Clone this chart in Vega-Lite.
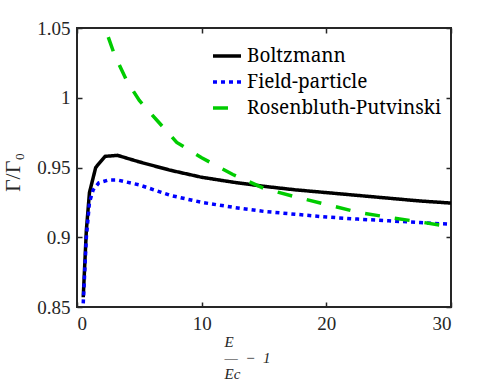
{
 "$schema": "https://vega.github.io/schema/vega-lite/v6.json",
 "width": 374,
 "height": 279,
 "autosize": {"type": "none"},
 "padding": {"left": 77, "top": 28, "right": 47, "bottom": 75},
 "background": "white",
 "config": {
  "view": {"stroke": "#262626", "strokeWidth": 2},
  "font": "Times New Roman",
  "axis": {"grid": false, "domain": false, "tickColor": "#262626", "tickWidth": 1.5, "tickSize": -5,
   "labelFontSize": 19, "labelColor": "#262626",
   "titleColor": "#262626", "titleFontWeight": "normal"}
 },
 "data": {"values": [
  {"series": "Boltzmann", "x": 0.5, "y": 0.857},
  {"series": "Boltzmann", "x": 0.75, "y": 0.905},
  {"series": "Boltzmann", "x": 1.0, "y": 0.932},
  {"series": "Boltzmann", "x": 1.5, "y": 0.950},
  {"series": "Boltzmann", "x": 2.25, "y": 0.958},
  {"series": "Boltzmann", "x": 3.25, "y": 0.9587},
  {"series": "Boltzmann", "x": 5, "y": 0.954},
  {"series": "Boltzmann", "x": 7.5, "y": 0.948},
  {"series": "Boltzmann", "x": 10, "y": 0.943},
  {"series": "Boltzmann", "x": 12.5, "y": 0.9395},
  {"series": "Boltzmann", "x": 15, "y": 0.9365},
  {"series": "Boltzmann", "x": 17.5, "y": 0.934},
  {"series": "Boltzmann", "x": 20, "y": 0.932},
  {"series": "Boltzmann", "x": 22.5, "y": 0.930},
  {"series": "Boltzmann", "x": 25, "y": 0.928},
  {"series": "Boltzmann", "x": 27.5, "y": 0.926},
  {"series": "Boltzmann", "x": 30, "y": 0.9245},
  {"series": "Field-particle", "x": 0.5, "y": 0.8526},
  {"series": "Field-particle", "x": 0.75, "y": 0.900},
  {"series": "Field-particle", "x": 1.0, "y": 0.925},
  {"series": "Field-particle", "x": 1.3, "y": 0.934},
  {"series": "Field-particle", "x": 1.75, "y": 0.939},
  {"series": "Field-particle", "x": 2.5, "y": 0.941},
  {"series": "Field-particle", "x": 3.25, "y": 0.941},
  {"series": "Field-particle", "x": 5, "y": 0.9375},
  {"series": "Field-particle", "x": 7.5, "y": 0.930},
  {"series": "Field-particle", "x": 10, "y": 0.925},
  {"series": "Field-particle", "x": 12.5, "y": 0.9215},
  {"series": "Field-particle", "x": 15, "y": 0.9185},
  {"series": "Field-particle", "x": 17.5, "y": 0.9165},
  {"series": "Field-particle", "x": 20, "y": 0.9145},
  {"series": "Field-particle", "x": 22.5, "y": 0.913},
  {"series": "Field-particle", "x": 25, "y": 0.9118},
  {"series": "Field-particle", "x": 27.5, "y": 0.9105},
  {"series": "Field-particle", "x": 30, "y": 0.9093},
  {"series": "Rosenbluth-Putvinski", "x": 1.8, "y": 1.064},
  {"series": "Rosenbluth-Putvinski", "x": 2.25, "y": 1.050},
  {"series": "Rosenbluth-Putvinski", "x": 3, "y": 1.031},
  {"series": "Rosenbluth-Putvinski", "x": 4, "y": 1.012},
  {"series": "Rosenbluth-Putvinski", "x": 5, "y": 0.998},
  {"series": "Rosenbluth-Putvinski", "x": 6.5, "y": 0.983},
  {"series": "Rosenbluth-Putvinski", "x": 8, "y": 0.968},
  {"series": "Rosenbluth-Putvinski", "x": 10, "y": 0.957},
  {"series": "Rosenbluth-Putvinski", "x": 12.5, "y": 0.945},
  {"series": "Rosenbluth-Putvinski", "x": 15, "y": 0.935},
  {"series": "Rosenbluth-Putvinski", "x": 17.5, "y": 0.929},
  {"series": "Rosenbluth-Putvinski", "x": 20, "y": 0.9235},
  {"series": "Rosenbluth-Putvinski", "x": 22.5, "y": 0.918},
  {"series": "Rosenbluth-Putvinski", "x": 25, "y": 0.9143},
  {"series": "Rosenbluth-Putvinski", "x": 27.5, "y": 0.911},
  {"series": "Rosenbluth-Putvinski", "x": 30, "y": 0.9075}
 ]},
 "layer": [
  {
   "mark": {"type": "line", "strokeWidth": 3.5, "clip": true},
   "encoding": {
    "x": {"field": "x", "type": "quantitative", "scale": {"domain": [0, 30], "nice": false},
     "axis": {"orient": "bottom", "values": [0, 10, 20, 30], "labelPadding": 12, "labelFont": "Liberation Serif",
      "title": ["\u2009E", "\u2014\u2002\u2212\u20021", "Ec"], "titleFont": "Liberation Serif", "titleFontSize": 15, "titleFontStyle": "italic",
      "titleLineHeight": 16, "titleAlign": "left", "titleX": 147, "titleY": 27, "titleBaseline": "top"}},
    "y": {"field": "y", "type": "quantitative", "scale": {"domain": [0.85, 1.05], "nice": false},
     "axis": {"orient": "left", "values": [0.85, 0.9, 0.95, 1, 1.05], "format": "~g", "labelPadding": 12, "labelFont": "Times New Roman",
      "title": "\u0393/\u0393\u2080", "titleFont": "Liberation Serif", "titleFontSize": 22, "titleX": -65, "titleY": 144, "titleAngle": -90,
      "titleAlign": "center", "titleBaseline": "middle"}},
    "color": {"field": "series", "type": "nominal",
     "scale": {"domain": ["Boltzmann", "Field-particle", "Rosenbluth-Putvinski"], "range": ["#000000", "#0000ff", "#00cc00"]},
     "legend": {"title": null, "orient": "none", "legendX": 134, "legendY": 12, "padding": 0, "symbolSize": 784,
      "symbolStrokeWidth": 3.5, "symbolType": "stroke", "labelFont": "Noto Serif", "labelFontSize": 19,
      "labelColor": "#000000", "labelOffset": 4, "rowPadding": 0, "labelLimit": 400}},
    "strokeDash": {"field": "series", "type": "nominal",
     "scale": {"domain": ["Boltzmann", "Field-particle", "Rosenbluth-Putvinski"], "range": [[1, 0], [4, 4], [15, 15]]},
     "legend": {"title": null, "orient": "none", "legendX": 134, "legendY": 12, "padding": 0, "symbolSize": 784,
      "symbolStrokeWidth": 3.5, "symbolType": "stroke", "labelFont": "Noto Serif", "labelFontSize": 19,
      "labelColor": "#000000", "labelOffset": 4, "rowPadding": 0, "labelLimit": 400}}
   }
  },
  {
   "mark": {"type": "line", "opacity": 0},
   "encoding": {
    "x": {"field": "x", "type": "quantitative", "scale": {"domain": [0, 30], "nice": false},
     "axis": {"orient": "top", "values": [0, 10, 20, 30], "labels": false, "title": null}},
    "y": {"field": "y", "type": "quantitative", "scale": {"domain": [0.85, 1.05], "nice": false},
     "axis": {"orient": "right", "values": [0.85, 0.9, 0.95, 1, 1.05], "labels": false, "title": null}},
    "detail": {"field": "series"}
   }
  }
 ],
 "resolve": {"axis": {"x": "independent", "y": "independent"}}
}
